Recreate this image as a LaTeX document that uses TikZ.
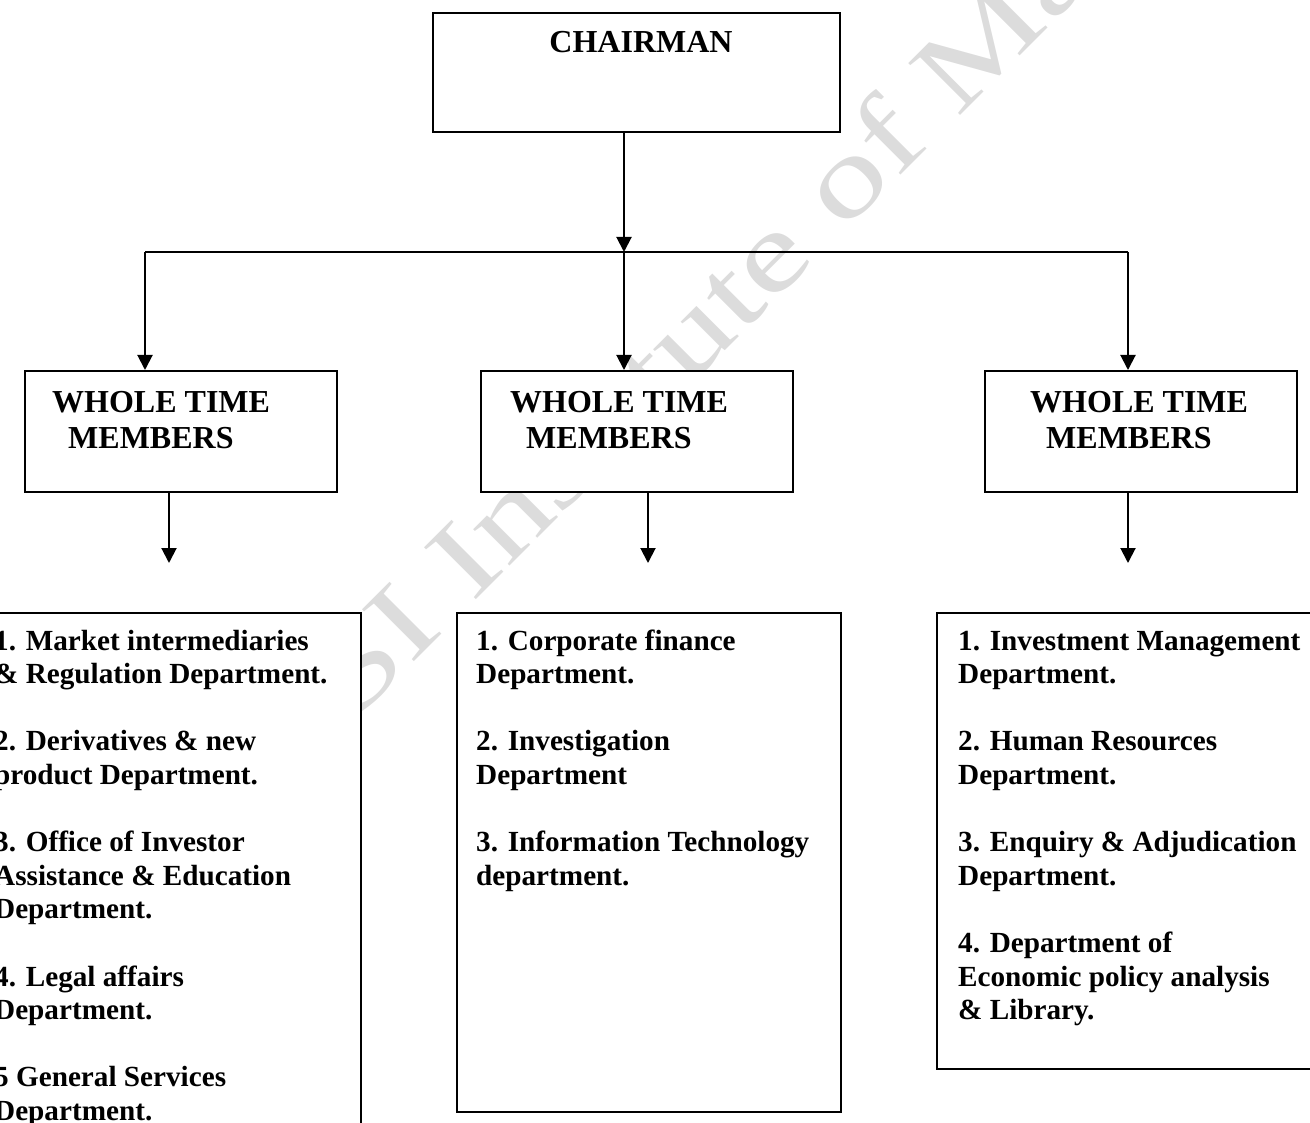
\documentclass[tikz,border=0pt]{standalone}
\usepackage{fontspec}
\setmainfont{Liberation Serif}
\usetikzlibrary{arrows.meta}
\definecolor{wmgray}{RGB}{220,220,220}
\begin{document}
\begin{tikzpicture}[x=1pt,y=-1pt,
  box/.style={draw, line width=2pt, fill=white, inner sep=0, anchor=north west},
  link/.style={line width=2pt},
  arr/.style={line width=2pt, -{Triangle[length=15pt,width=15pt]}},
  head/.style={font=\fontsize{32}{35}\selectfont\bfseries, anchor=base west, inner sep=0},
  % multi-line lists: the base anchor sits on the last line
  body/.style={font=\fontsize{29.2}{33.6}\selectfont\bfseries, anchor=base west,
               inner sep=0, align=left},
]
\useasboundingbox (0,0) rectangle (1310,1123);
\clip (0,0) rectangle (1310,1123);

% faint stretched diagonal watermark, behind the opaque boxes
\node[font=\fontsize{112}{112}\selectfont, text=wmgray, rotate=45, xscale=1.33,
      anchor=base west, inner sep=0] (wm) at (352,724) {SI Institute of Ma};

% boxes
\node[box, minimum width=407, minimum height=119] (chair) at (432,12) {};
\node[box, minimum width=312, minimum height=121] (wtmL) at (24,370) {};
\node[box, minimum width=312, minimum height=121] (wtmM) at (480,370) {};
\node[box, minimum width=312, minimum height=121] (wtmR) at (984,370) {};
\node[box, minimum width=386, minimum height=540] (depL) at (-26,612) {};
\node[box, minimum width=384, minimum height=499] (depM) at (456,612) {};
\node[box, minimum width=384, minimum height=456] (depR) at (936,612) {};

% box texts
\node[head, anchor=base] (tchair) at (641,53) {CHAIRMAN};
\node[head] (tL1) at (52,413) {WHOLE TIME};
\node[head] (tL2) at (68,448) {MEMBERS};
\node[head] (tM1) at (510,413) {WHOLE TIME};
\node[head] (tM2) at (526,448) {MEMBERS};
\node[head] (tR1) at (1030,413) {WHOLE TIME};
\node[head] (tR2) at (1046,448) {MEMBERS};

\node[body] (listL) at (-6,1120.4) {1. Market intermediaries\\
\& Regulation Department.\\[33.6pt]
2. Derivatives \& new\\
product Department.\\[33.6pt]
3. Office of Investor\\
Assistance \& Education\\
Department.\\[33.6pt]
4. Legal affairs\\
Department.\\[33.6pt]
5 General Services\\
Department.};

\node[body] (listM) at (476,885.2) {1. Corporate finance\\
Department.\\[33.6pt]
2. Investigation\\
Department\\[33.6pt]
3. Information Technology\\
department.};

\node[body] (listR) at (958,1019.6) {1. Investment Management\\
Department.\\[33.6pt]
2. Human Resources\\
Department.\\[33.6pt]
3. Enquiry \& Adjudication\\
Department.\\[33.6pt]
4. Department of\\
Economic policy analysis\\
\& Library.};

% connectors
\coordinate (junc) at (624,252);
\coordinate (barL) at (145,252);
\coordinate (barR) at (1128,252);
\draw[link] (barL) -- (barR);
\draw[arr] (chair.south -| junc) -- (junc);
\draw[arr] (barL) -- (barL |- wtmL.north);
\draw[arr] (junc) -- (junc |- wtmM.north);
\draw[arr] (barR) -- (barR |- wtmR.north);

\coordinate (endL) at (169,563);
\coordinate (endM) at (648,563);
\coordinate (endR) at (1128,563);
\draw[arr] (endL |- wtmL.south) -- (endL);
\draw[arr] (endM |- wtmM.south) -- (endM);
\draw[arr] (endR |- wtmR.south) -- (endR);
\end{tikzpicture}
\end{document}
